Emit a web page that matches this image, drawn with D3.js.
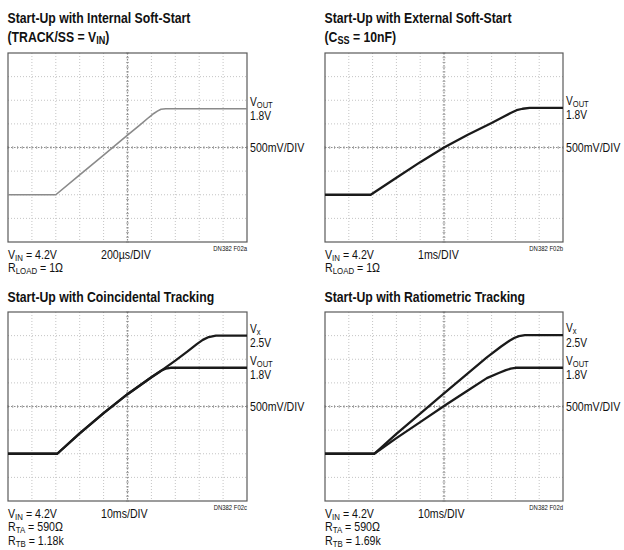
<!DOCTYPE html>
<html>
<head>
<meta charset="utf-8">
<script src="https://cdn.jsdelivr.net/npm/d3@7"></script>
<style>
  body { margin: 0; background: #fff; }
  svg { display: block; }
  text { font-family: "Liberation Sans", Arial, sans-serif; fill: #111; }
</style>
</head>
<body>
<svg id="chart" width="624" height="550"></svg>
<script>
// ---- Data (x in time divisions 0..10, y in volts) ----
const p1Time = [0, 2.0, 3, 4, 5, 5.5, 5.9, 6.1, 6.25, 6.4, 6.6, 8, 10];
const p1Vout = [0, 0, 0.42, 0.84, 1.26, 1.47, 1.64, 1.72, 1.77, 1.81, 1.82, 1.82, 1.82];

const p2Time = [0, 1.92, 3, 4, 5, 6, 7, 7.5, 7.8, 8.05, 8.3, 8.6, 10];
const p2Vout = [0, 0, 0.36, 0.69, 1.0, 1.27, 1.52, 1.65, 1.73, 1.79, 1.82, 1.84, 1.84];

const p3Time = [0, 2.06, 3, 4, 5, 6, 6.5, 7, 7.5, 7.9, 8.15, 8.4, 8.7, 10];
const p3Vx   = [0, 0, 0.43, 0.86, 1.26, 1.62, 1.79, 1.97, 2.16, 2.32, 2.41, 2.47, 2.5, 2.5];
const p3VoutTime = [0, 2.06, 3, 4, 5, 6, 6.3, 6.45, 6.6, 6.8, 8, 10];
const p3Vout = [0, 0, 0.43, 0.86, 1.26, 1.62, 1.72, 1.77, 1.8, 1.82, 1.82, 1.82];

const p4Time = [0, 2.07, 3, 4, 5, 6, 6.8, 7.4, 7.75, 7.95, 8.15, 8.4, 10];
const p4Vx   = [0, 0, 0.42, 0.85, 1.28, 1.7, 2.04, 2.27, 2.39, 2.45, 2.49, 2.51, 2.51];
const p4VoutTime = [0, 2.07, 3, 4, 5, 6, 6.8, 7.3, 7.6, 7.8, 8.0, 8.3, 10];
const p4Vout = [0, 0, 0.33, 0.67, 1.01, 1.34, 1.6, 1.71, 1.77, 1.8, 1.82, 1.82, 1.82];

const titles = [
  [[["Start-Up with Internal Soft-Start", ""]], [["(TRACK/SS = V", ""], ["IN", "sub"], [")", ""]]],
  [[["Start-Up with External Soft-Start", ""]], [["(C", ""], ["SS", "sub"], [" = 10nF)", ""]]],
  [[["Start-Up with Coincidental Tracking", ""]]],
  [[["Start-Up with Ratiometric Tracking", ""]]]
];
const timeLabels = ["200\u00b5s/DIV", "1ms/DIV", "10ms/DIV", "10ms/DIV"];
const figLabels = ["DN382 F02a", "DN382 F02b", "DN382 F02c", "DN382 F02d"];
const condLabels = [
  [[["V", ""], ["IN", "sub"], [" = 4.2V", ""]], [["R", ""], ["LOAD", "sub"], [" = 1\u03a9", ""]]],
  [[["V", ""], ["IN", "sub"], [" = 4.2V", ""]], [["R", ""], ["LOAD", "sub"], [" = 1\u03a9", ""]]],
  [[["V", ""], ["IN", "sub"], [" = 4.2V", ""]], [["R", ""], ["TA", "sub"], [" = 590\u03a9", ""]], [["R", ""], ["TB", "sub"], [" = 1.18k", ""]]],
  [[["V", ""], ["IN", "sub"], [" = 4.2V", ""]], [["R", ""], ["TA", "sub"], [" = 590\u03a9", ""]], [["R", ""], ["TB", "sub"], [" = 1.69k", ""]]]
];
const voltsPerDiv = "500mV/DIV";

// ---- Layout ----
const SX = 0.85; // horizontal condensing of text
const panels = [
  { x0: 8,   x1: 247, y0: 53,  y1: 242, ty: 22.5, traces: [{t: p1Time, v: p1Vout, name: "VOUT", lvl: "1.8V"}], color: "#8a8a8a", width: 1.6 },
  { x0: 325, x1: 563, y0: 53,  y1: 242, ty: 22.5, traces: [{t: p2Time, v: p2Vout, name: "VOUT", lvl: "1.8V"}], color: "#1a1a1a", width: 2.3 },
  { x0: 8,   x1: 247, y0: 312, y1: 501, ty: 301.5, traces: [{t: p3Time, v: p3Vx, name: "Vx", lvl: "2.5V"}, {t: p3VoutTime, v: p3Vout, name: "VOUT", lvl: "1.8V"}], color: "#1a1a1a", width: 2.3 },
  { x0: 325, x1: 563, y0: 312, y1: 501, ty: 301.5, traces: [{t: p4Time, v: p4Vx, name: "Vx", lvl: "2.5V"}, {t: p4VoutTime, v: p4Vout, name: "VOUT", lvl: "1.8V"}], color: "#1a1a1a", width: 2.3 }
];

const svg = d3.select("#chart");

function richText(g, parts, x, y, size, weight, anchor) {
  const holder = g.append("g").attr("transform", `translate(${x},${y}) scale(${SX},1)`);
  const t = holder.append("text").attr("x", 0).attr("y", 0)
    .attr("font-size", size).attr("font-weight", weight || "normal")
    .attr("text-anchor", anchor || "start");
  let prevSub = false;
  parts.forEach(([s, kind]) => {
    const ts = t.append("tspan").text(s);
    if (kind === "sub") {
      ts.attr("font-size", size * 0.74).attr("dy", size * 0.18);
      prevSub = true;
    } else {
      if (prevSub) ts.attr("dy", -size * 0.18);
      prevSub = false;
    }
  });
  return t;
}

panels.forEach((p, i) => {
  const g = svg.append("g");
  const x = d3.scaleLinear().domain([0, 10]).range([p.x0, p.x1]);
  const y = d3.scaleLinear().domain([-1, 3]).range([p.y1, p.y0]);

  // grid
  const grid = g.append("g");
  d3.range(1, 10).forEach(k => {
    if (k === 5) return;
    grid.append("line").attr("x1", x(k)).attr("x2", x(k)).attr("y1", p.y0).attr("y2", p.y1)
      .attr("stroke", "#c4c4c4").attr("stroke-width", 1).attr("stroke-dasharray", "1,2");
  });
  [-0.5, 0, 0.5, 1.5, 2, 2.5].forEach(v => {
    grid.append("line").attr("x1", p.x0).attr("x2", p.x1).attr("y1", y(v)).attr("y2", y(v))
      .attr("stroke", "#c4c4c4").attr("stroke-width", 1).attr("stroke-dasharray", "1,2");
  });
  // center axes
  grid.append("line").attr("x1", x(5)).attr("x2", x(5)).attr("y1", p.y0).attr("y2", p.y1)
    .attr("stroke", "#8c8c8c").attr("stroke-width", 1.2).attr("stroke-dasharray", "1.5,1.5");
  grid.append("line").attr("x1", p.x0).attr("x2", p.x1).attr("y1", y(1)).attr("y2", y(1))
    .attr("stroke", "#8c8c8c").attr("stroke-width", 1.2).attr("stroke-dasharray", "1.5,1.5");
  // minor ticks on center axes
  d3.range(0, 10.01, 0.2).forEach(k => {
    grid.append("line").attr("x1", x(k)).attr("x2", x(k)).attr("y1", y(1) - 1.5).attr("y2", y(1) + 1.5)
      .attr("stroke", "#9a9a9a").attr("stroke-width", 0.8);
  });
  d3.range(-1, 3.001, 0.1).forEach(v => {
    grid.append("line").attr("x1", x(5) - 1.5).attr("x2", x(5) + 1.5).attr("y1", y(v)).attr("y2", y(v))
      .attr("stroke", "#9a9a9a").attr("stroke-width", 0.8);
  });
  // border
  g.append("rect").attr("x", p.x0).attr("y", p.y0).attr("width", p.x1 - p.x0).attr("height", p.y1 - p.y0)
    .attr("fill", "none").attr("stroke", "#5a5a5a").attr("stroke-width", 1.2);

  // traces
  const line = d3.line().x(d => x(d[0])).y(d => y(d[1])).curve(d3.curveLinear);
  p.traces.forEach(tr => {
    const pts = tr.t.map((t, j) => [t, tr.v[j]]);
    g.append("path").attr("d", line(pts)).attr("fill", "none")
      .attr("stroke", p.color).attr("stroke-width", p.width).attr("stroke-linejoin", "round");
  });

  // titles
  titles[i].forEach((parts, k) => {
    richText(g, parts, p.x0 - 0.5, p.ty + k * 19, 14.4, "bold");
  });

  // right labels
  const lx = p.x1 + 3;
  p.traces.forEach(tr => {
    const lvl = tr.v[tr.v.length - 1];
    const yy = y(lvl);
    if (tr.name === "VOUT") {
      richText(g, [["V", ""], ["OUT", "sub"]], lx, yy - 3, 12);
    } else {
      richText(g, [["V", ""], ["x", "sub"]], lx, yy - 3, 12);
    }
    richText(g, [[tr.lvl, ""]], lx, yy + 11.5, 12);
  });
  richText(g, [[voltsPerDiv, ""]], lx, y(1) + 4.5, 12.5);

  // bottom labels
  condLabels[i].forEach((parts, k) => {
    richText(g, parts, p.x0, p.y1 + 16.5 + k * 13.5, 12.5);
  });
  richText(g, [[timeLabels[i], ""]], p.x0 + 93, p.y1 + 16.5, 12.5);
  richText(g, [[figLabels[i], ""]], p.x1, p.y1 + 8.5, 7, "normal", "end");
});
</script>
</body>
</html>
